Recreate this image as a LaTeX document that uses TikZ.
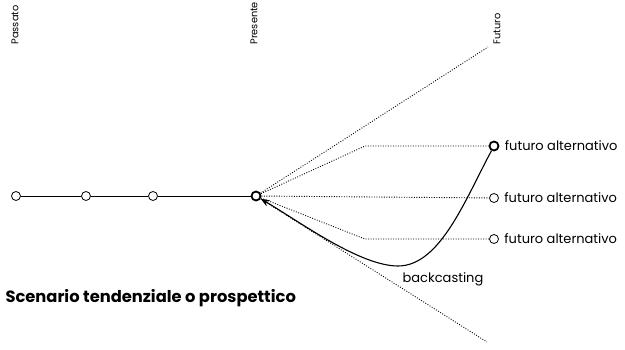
\documentclass[tikz,border=0pt]{standalone}
\usepackage{fontspec}
\setmainfont{Poppins}
\usepackage{tikz}
\usetikzlibrary{calc, arrows.meta}

\tikzset{
  dot/.style={circle, draw, fill=white, inner sep=0pt, minimum size=9pt, line width=0.8pt},
  bigdot/.style={dot, line width=1.8pt, minimum size=9pt},
  puntini/.style={dash pattern=on 0.9pt off 1.6pt, line width=0.9pt},
  epoca/.style={rotate=90, anchor=west, font=\fontsize{9.8}{11}\selectfont},
  esito/.style={anchor=west, xshift=2pt, font=\fontsize{13}{15}\selectfont}
}

\begin{document}
\begin{tikzpicture}[x=1pt, y=1pt]
        \useasboundingbox (0,0) rectangle (625,349);
        % timeline
        \node[dot] (a1) at (16,153) {};
        \node[dot] (a2) at (86,153) {};
        \node[dot] (a3) at (153,153) {};
        \node[bigdot] (p) at (256,153) {};
        \draw[line width=1pt] (a1) -- (a2) -- (a3) -- (p);
        % futures
        \node[bigdot] (f1) at (494,203) {};
        \node[dot] (f2) at (494,151) {};
        \node[dot] (f3) at (494,110) {};
        \coordinate (k1) at (365,203);
        \coordinate (k3) at (365,110);
        \coordinate (alto) at (488,302);
        \coordinate (basso) at (487,7);
        \draw[puntini] (p) -- (alto);
        \draw[puntini] (p) -- (k1) -- (f1);
        \draw[puntini] (p) -- (f2);
        \draw[puntini] (p) -- (k3) -- (f3);
        \draw[puntini] (p) -- (basso);
        % backcasting
        \coordinate (fondo) at (398,83);
        \draw[line width=1.1pt, -{Stealth[length=9pt, width=7pt]}] (f1) .. controls (465,149) and (440,83) .. (fondo)
              .. controls (360,83) and (300,127) .. (p);
        \node[font=\fontsize{13}{15}\selectfont] (bc) at (443,70) {backcasting};
        % labels
        \node[epoca] (lpass) at (15,301) {Passato};
        \node[epoca] (lpres) at (254,301) {Presente};
        \node[epoca] (lfut) at (497,301) {Futuro};
        \node[esito] (e1) at (f1.east) {futuro alternativo};
        \node[esito] (e2) at (f2.east) {futuro alternativo};
        \node[esito] (e3) at (f3.east) {futuro alternativo};
        \node[anchor=west, font=\bfseries\fontsize{16.3}{19}\selectfont] (titolo) at (2,51) {Scenario tendenziale o prospettico};
    \end{tikzpicture}
\end{document}
